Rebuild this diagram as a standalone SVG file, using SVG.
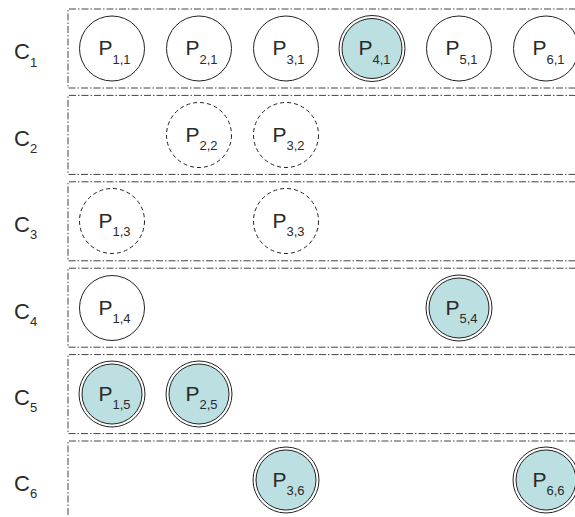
<svg xmlns="http://www.w3.org/2000/svg" width="575" height="517" viewBox="0 0 575 517">
<style>
.frame{fill:none;stroke:#444;stroke-width:1;stroke-dasharray:7,2,1.5,2}
.solid{fill:#fff;stroke:#222;stroke-width:1}
.dash{fill:#fff;stroke:#222;stroke-width:1;stroke-dasharray:4,3}
.dbl-o{fill:#fff;stroke:#222;stroke-width:1}
.dbl-i{fill:#bcdfe2;stroke:#222;stroke-width:1}
text{font-family:"Liberation Sans",Arial,sans-serif;fill:#2a2a2a}
.lbl{font-size:21px}
.clbl{font-size:22px}
.sub{font-size:13px}
</style>
<rect width="575" height="517" fill="#fff"/>
<g id="rows">
<path class="frame" d="M576,9 H68 V88 H576"/>
<path class="frame" d="M576,95.4 H68 V174.4 H576"/>
<path class="frame" d="M576,181.8 H68 V260.8 H576"/>
<path class="frame" d="M576,268.2 H68 V347.2 H576"/>
<path class="frame" d="M576,354.6 H68 V433.6 H576"/>
<path class="frame" d="M576,441 H68 V520 H576"/>
</g>
<g id="row-labels">
<text class="clbl" x="14" y="59">C<tspan class="sub" dy="7.5">1</tspan></text>
<text class="clbl" x="14" y="145.5">C<tspan class="sub" dy="7.5">2</tspan></text>
<text class="clbl" x="14" y="231.5">C<tspan class="sub" dy="7.5">3</tspan></text>
<text class="clbl" x="14" y="318.5">C<tspan class="sub" dy="7.5">4</tspan></text>
<text class="clbl" x="14" y="404.5">C<tspan class="sub" dy="7.5">5</tspan></text>
<text class="clbl" x="14" y="490.5">C<tspan class="sub" dy="7.5">6</tspan></text>
</g>
<g id="P11"><circle class="solid" cx="112" cy="48.5" r="32.5"/><text class="lbl" x="114.5" y="55" text-anchor="middle">P<tspan class="sub" dy="8.5">1,1</tspan></text></g>
<g id="P21"><circle class="solid" cx="199" cy="48.5" r="32.5"/><text class="lbl" x="201.5" y="55" text-anchor="middle">P<tspan class="sub" dy="8.5">2,1</tspan></text></g>
<g id="P31"><circle class="solid" cx="286" cy="48.5" r="32.5"/><text class="lbl" x="288.5" y="55" text-anchor="middle">P<tspan class="sub" dy="8.5">3,1</tspan></text></g>
<g id="P41"><circle class="dbl-o" cx="372" cy="48.5" r="33"/><circle class="dbl-i" cx="372" cy="48.5" r="30"/><text class="lbl" x="374.5" y="55" text-anchor="middle">P<tspan class="sub" dy="8.5">4,1</tspan></text></g>
<g id="P51"><circle class="solid" cx="459" cy="48.5" r="32.5"/><text class="lbl" x="461.5" y="55" text-anchor="middle">P<tspan class="sub" dy="8.5">5,1</tspan></text></g>
<g id="P61"><circle class="solid" cx="546" cy="48.5" r="32.5"/><text class="lbl" x="548.5" y="55" text-anchor="middle">P<tspan class="sub" dy="8.5">6,1</tspan></text></g>
<g id="P22"><circle class="dash" cx="199" cy="135" r="32.5"/><text class="lbl" x="201.5" y="141.5" text-anchor="middle">P<tspan class="sub" dy="8.5">2,2</tspan></text></g>
<g id="P32"><circle class="dash" cx="286" cy="135" r="32.5"/><text class="lbl" x="288.5" y="141.5" text-anchor="middle">P<tspan class="sub" dy="8.5">3,2</tspan></text></g>
<g id="P13"><circle class="dash" cx="112" cy="221" r="32.5"/><text class="lbl" x="114.5" y="227.5" text-anchor="middle">P<tspan class="sub" dy="8.5">1,3</tspan></text></g>
<g id="P33"><circle class="dash" cx="286" cy="221" r="32.5"/><text class="lbl" x="288.5" y="227.5" text-anchor="middle">P<tspan class="sub" dy="8.5">3,3</tspan></text></g>
<g id="P14"><circle class="solid" cx="112" cy="308" r="32.5"/><text class="lbl" x="114.5" y="314.5" text-anchor="middle">P<tspan class="sub" dy="8.5">1,4</tspan></text></g>
<g id="P54"><circle class="dbl-o" cx="459" cy="308" r="33"/><circle class="dbl-i" cx="459" cy="308" r="30"/><text class="lbl" x="461.5" y="314.5" text-anchor="middle">P<tspan class="sub" dy="8.5">5,4</tspan></text></g>
<g id="P15"><circle class="dbl-o" cx="112" cy="394" r="33"/><circle class="dbl-i" cx="112" cy="394" r="30"/><text class="lbl" x="114.5" y="400.5" text-anchor="middle">P<tspan class="sub" dy="8.5">1,5</tspan></text></g>
<g id="P25"><circle class="dbl-o" cx="199" cy="394" r="33"/><circle class="dbl-i" cx="199" cy="394" r="30"/><text class="lbl" x="201.5" y="400.5" text-anchor="middle">P<tspan class="sub" dy="8.5">2,5</tspan></text></g>
<g id="P36"><circle class="dbl-o" cx="286" cy="480" r="33"/><circle class="dbl-i" cx="286" cy="480" r="30"/><text class="lbl" x="288.5" y="486.5" text-anchor="middle">P<tspan class="sub" dy="8.5">3,6</tspan></text></g>
<g id="P66"><circle class="dbl-o" cx="546" cy="480" r="33"/><circle class="dbl-i" cx="546" cy="480" r="30"/><text class="lbl" x="548.5" y="486.5" text-anchor="middle">P<tspan class="sub" dy="8.5">6,6</tspan></text></g>
<g id="connectors"/>
</svg>
